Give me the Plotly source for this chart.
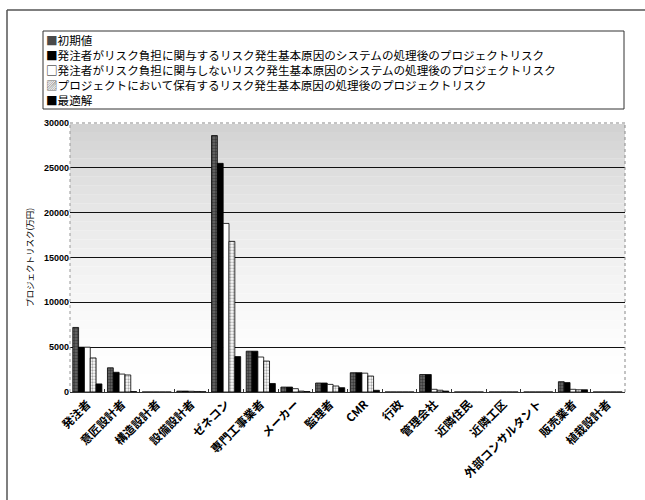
import plotly.graph_objects as go

categories = ["発注者", "意匠設計者", "構造設計者", "設備設計者", "ゼネコン", "専門工事業者",
              "メーカー", "監理者", "CMR", "行政", "管理会社", "近隣住民", "近隣工区",
              "外部コンサルタント", "販売業者", "植栽設計者"]

series_names = [
    "初期値",
    "発注者がリスク負担に関与するリスク発生基本原因のシステムの処理後のプロジェクトリスク",
    "発注者がリスク負担に関与しないリスク発生基本原因のシステムの処理後のプロジェクトリスク",
    "プロジェクトにおいて保有するリスク発生基本原因の処理後のプロジェクトリスク",
    "最適解",
]

initial_vals   = [7200, 2700, 0, 100, 28600, 4550, 550, 1000, 2150, 0, 1950, 0, 0, 0, 1150, 0]
owner_in_vals  = [5000, 2200, 0, 100, 25500, 4550, 550, 1000, 2150, 0, 1950, 0, 0, 0, 1050, 0]
owner_out_vals = [5000, 2000, 0, 80, 18800, 3900, 370, 850, 2100, 0, 300, 0, 0, 0, 300, 0]
retained_vals  = [3800, 1900, 0, 60, 16800, 3450, 100, 670, 1780, 0, 200, 0, 0, 0, 250, 0]
optimal_vals   = [900, 50, 0, 30, 3950, 950, 50, 480, 190, 0, 100, 0, 0, 0, 250, 0]

y_ticks = [0, 5000, 10000, 15000, 20000, 25000, 30000]
y_title = "プロジェクトリスク(万円)"

values = [initial_vals, owner_in_vals, owner_out_vals, retained_vals, optimal_vals]
styles = [
    dict(color="#3c3c3c", pattern=dict(shape=".", fgcolor="#0a0a0a", bgcolor="#6a6a6a", size=3, solidity=0.5)),
    dict(color="#000000"),
    dict(color="#ffffff"),
    dict(color="#bdbdbd", pattern=dict(shape=".", fgcolor="#555555", bgcolor="#ffffff", size=3, solidity=0.45)),
    dict(color="#000000"),
]
legend_symbols = [("■", "#4a4a4a"), ("■", "#000000"), ("□", "#000000"), ("▨", "#666666"), ("■", "#000000")]

fig = go.Figure()
for name, vals, st in zip(series_names, values, styles):
    marker = dict(color=st["color"], line=dict(color="#000000", width=0.8))
    if "pattern" in st:
        marker["pattern"] = st["pattern"]
    fig.add_trace(go.Bar(x=categories, y=vals, name=name, marker=marker))

CJK = "Noto Sans CJK JP"

# plot area pixel geometry helpers (layout only)
L, T, W, H = 70, 123, 555, 269
def px(xp):
    return (xp - L) / W
def py(yp):
    return (T + H - yp) / H

shapes = []
# gradient background bands (gray at top fading to white)
n_bands = 30
for i in range(n_bands):
    t0 = i / n_bands
    t1 = (i + 1) / n_bands
    tm = (t0 + t1) / 2
    g = int(round(255 - 46 * tm ** 1.6))
    shapes.append(dict(type="rect", xref="x domain", yref="y domain", x0=0, x1=1, y0=t0, y1=t1,
                       fillcolor=f"rgb({g},{g},{g})", line=dict(width=0), layer="below"))
# plot-area dotted border (top / right / left)
shapes.append(dict(type="line", xref="x domain", yref="y domain", x0=0, x1=1, y0=1, y1=1,
                   line=dict(color="#ffffff", width=2), layer="above"))
shapes.append(dict(type="line", xref="x domain", yref="y domain", x0=0, x1=1, y0=1, y1=1,
                   line=dict(color="#888888", width=1, dash="dot"), layer="above"))
shapes.append(dict(type="line", xref="x domain", yref="y domain", x0=1, x1=1, y0=0, y1=1,
                   line=dict(color="#888888", width=1, dash="dot"), layer="above"))
shapes.append(dict(type="line", xref="x domain", yref="y domain", x0=0, x1=0, y0=0, y1=1,
                   line=dict(color="#999999", width=1, dash="dot"), layer="above"))
# outer chart frame (top and left edges)
shapes.append(dict(type="line", xref="paper", yref="paper", x0=px(7), x1=px(650), y0=py(10), y1=py(10),
                   line=dict(color="#555555", width=1.5)))
shapes.append(dict(type="line", xref="paper", yref="paper", x0=px(7), x1=px(7), y0=py(10), y1=py(505),
                   line=dict(color="#555555", width=1.5)))
# legend box
shapes.append(dict(type="rect", xref="paper", yref="paper", x0=px(43), x1=px(624), y0=py(31), y1=py(109),
                   line=dict(color="#333333", width=1), fillcolor="#ffffff"))

# legend entries as text rows
annotations = []
row_centers = [39.5, 54.7, 69.9, 85.1, 100.3]
for (sym, col), name, yc in zip(legend_symbols, series_names, row_centers):
    annotations.append(dict(
        xref="paper", yref="paper", x=px(45), y=py(yc), xanchor="left", yanchor="middle",
        showarrow=False, borderpad=0,
        text=f"<span style='color:{col}'>{sym}</span>{name}",
        font=dict(family=CJK, size=11.6, color="#000000"),
    ))

fig.update_layout(
    width=645, height=500,
    margin=dict(l=L, r=645 - L - W, t=T, b=500 - T - H),
    paper_bgcolor="#ffffff",
    plot_bgcolor="#ffffff",
    barmode="group",
    bargap=0.16,
    bargroupgap=0,
    font=dict(family=CJK, color="#000000"),
    shapes=shapes,
    annotations=annotations,
    showlegend=False,
)

fig.update_xaxes(
    tickangle=-45,
    tickfont=dict(family=CJK, size=11.5, color="#000000", weight="bold"),
    showline=True, linecolor="#333333", linewidth=1.2,
    ticks="inside", ticklen=3, tickcolor="#333333", tickson="boundaries",
    showgrid=False,
)
fig.update_yaxes(
    range=[0, 30000],
    tickvals=y_ticks,
    ticktext=[str(v) for v in y_ticks],
    tickfont=dict(family="Liberation Sans", size=9, color="#000000", weight="bold"),
    showgrid=True, gridcolor="#111111", gridwidth=1.3,
    zeroline=False, showline=False, ticks="",
    title=dict(text=y_title, font=dict(family=CJK, size=8.5, color="#000000"), standoff=8),
)

fig.write_html("out.html")
